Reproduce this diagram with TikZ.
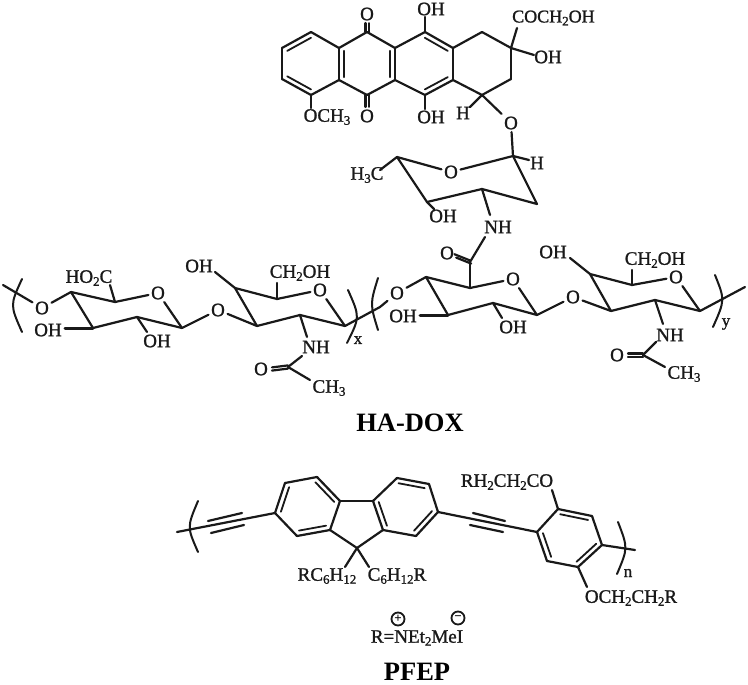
\documentclass[tikz,border=0pt]{standalone}
\usepackage{fontspec}
\setmainfont{Liberation Serif}
\newfontfamily\chemfont{Liberation Serif}[RawFeature={embolden=1.2}]
\usetikzlibrary{calc}
\newcommand{\sbs}[1]{\raisebox{-3pt}{\fontsize{13}{13}\selectfont #1}}
\tikzset{
 bond/.style={line width=2.2pt,line cap=round,line join=round,color=black!90},
 wedge/.style={bond,line width=3pt},
 innerb/.style={bond,line width=1.8pt},
 par/.style={bond,line width=2pt},
 lab/.style={inner sep=0pt,font=\chemfont\fontsize{19}{19}\selectfont,text=black!90},
 atom/.style={lab,inner sep=2.5pt},
 title/.style={inner sep=0pt,font=\fontsize{26.5}{26.5}\selectfont\bfseries},
 idx/.style={inner sep=0pt,font=\chemfont\fontsize{17}{17}\selectfont,text=black!90},
 charge/.style={circle,draw=black!90,line width=1.8pt,inner sep=0pt,minimum size=13pt,font=\fontsize{13}{13}\selectfont\bfseries}
}
\begin{document}
\begin{tikzpicture}[x=1pt,y=-1pt]
\useasboundingbox (0,0) rectangle (748,685);
% ---- named vertices
\foreach \n/\x/\y in {
 A1/311/32,A2/339/48,A3/339/80,A4/311/95,A5/282/79,A6/282/48,Ac/311/64,
 B1/367/32,B3/395/48,B4/395/80,B6/367/95,Bc/367/64,
 C1/425/32,C3/453/48,C4/453/80,C6/425/95,Cc/424/64,
 D1/482/32,D2/511/48,D3/511/79,D4/482/95,
 eOHt/425/17,eOHb/425/109,eOMe/311/108,eCO/517/28,eOHr/534/55,eHd/470/107,
 S1/513/156,S2/537/204,S3/482/189,S4/427/202,S5/397/157,
 eHs/529/160,eMe/380/170,eOHs/434/209,eNHs/490/215,
 eNHa/485/237,Am/470/262,eOa/455/256,
 P1/426/277,P2/470/288,P3/537/315,P4/493/303,P5/448/315,
 eOHp/420/315,eOHq/502/318,
 Q1/611/311,Q2/590/274,Q3/632/285,Q4/700/311,Q5/655/300,
 eOHQ/570/258,eCHQ/632/270,eNHQ/663/324,eNHQb/656/342,Qa/643/355,eMeQ/665/367,eOQ/628/355,
 U1/71/292,U2/115/302,U3/182/328,U4/137/317,U5/93/328,
 eCOOH/110/285,eOHu/65/328,eOHv/147/332,
 V1/257/326,V2/235/288,V3/277/299,V4/345/326,V5/300/315,
 eOHV/215/272,eCHV/277/283,eNHV/307/337,eNHVb/302/356,Va/288/367,eMeV/310/380,eOV/272/369,
 pLa/3/285,pRe/380/307,yEnd/745/287,
 F1/275/513,F2/285/483,F3/317/477,F4/340/501,F5/330/530,F6/297/536,Fc/308/506,
 G1/373/501,G2/397/478,G3/429/484,G4/438/512,G5/416/536,G6/383/530,Gc/405/507,
 F9/357/548,eF1/345/567,eF2/369/567,
 tL/177/532,tEnd/635/550,
 t1a/208/521,t1b/242/513,t2a/211/533,t2b/244/525,
 t3a/473/513,t3b/505/521,t4a/470/525,t4b/503/532,
 H1/537/532,H2/558/509,H3/592/516,H4/602/545,H5/578/567,H6/547/561,Hc/570/538,
 eOCO/552/490,eOC2/587/587,
 p1a/22/279,p1c/10/305,p1b/22/332,
 p2a/348/290,p2c/360/317,p2b/347/343,
 p3a/378/278,p3c/370/304,p3b/378/330,
 p4a/715/275,p4c/725/300,p4b/713/327,
 p5a/198/501,p5c/187/527,p5b/198/552,
 p6a/618/522,p6c/628/548,p6b/617/574}
 {\coordinate (\n) at (\x,\y);}
% ---- atom labels
\node[atom] (oT) at (367,14) {O};
\node[atom] (oB) at (367,116) {O};
\node[atom] (oGly) at (511,123) {O};
\node[atom] (oS) at (451,172) {O};
\node[atom] (oAm) at (447,253) {O};
\node[atom] (oP) at (513,279) {O};
\node[atom] (oL0) at (397,293) {O};
\node[atom] (oL1) at (573,297) {O};
\node[atom] (oQ) at (676,277) {O};
\node[atom] (oQa) at (617,355) {O};
\node[atom] (oU0) at (42,308) {O};
\node[atom] (oU) at (158,293) {O};
\node[atom] (oL2) at (218,310) {O};
\node[atom] (oV) at (320,290) {O};
\node[atom] (oVa) at (261,369) {O};
\node[lab] (tOHt) at (431,9) {OH};
\node[lab] (tOHb) at (431,117) {OH};
\node[lab] (tOMe) at (327,117) {OCH\sbs{3}};
\node[lab,anchor=west,font=\chemfont\fontsize{18}{18}\selectfont] (tCO) at (512,18) {COCH\sbs{2}OH};
\node[lab] (tOHr) at (548,57) {OH};
\node[lab] (tHd) at (463,113) {H};
\node[lab] (tHs) at (537,163) {H};
\node[lab] (tMe) at (367,175) {H\sbs{3}C};
\node[lab] (tOHs) at (443,216) {OH};
\node[lab] (tNHs) at (498,227) {NH};
\node[lab] (tOHp) at (403,316) {OH};
\node[lab] (tOHq) at (513,327) {OH};
\node[lab] (tOHQ) at (553,252) {OH};
\node[lab] (tCHQ) at (655,260) {CH\sbs{2}OH};
\node[lab] (tNHQ) at (670,335) {NH};
\node[lab] (tMeQ) at (684,374) {CH\sbs{3}};
\node[lab] (tCOOH) at (89,278) {HO\sbs{2}C};
\node[lab] (tOHu) at (48,330) {OH};
\node[lab] (tOHv) at (157,341) {OH};
\node[lab] (tOHV) at (199,266) {OH};
\node[lab] (tCHV) at (300,273) {CH\sbs{2}OH};
\node[lab] (tNHV) at (316,347) {NH};
\node[lab] (tMeV) at (329,388) {CH\sbs{3}};
\node[idx] (ix) at (358,340) {x};
\node[idx] (iy) at (726,324) {y};
\node[idx] (in) at (628,573) {n};
\node[title] (ha) at (410,423) {HA-DOX};
\node[lab] (tRC) at (327,576) {RC\sbs{6}H\sbs{12}};
\node[lab] (tCR) at (397,576) {C\sbs{6}H\sbs{12}R};
\node[lab] (tRH) at (507,482) {RH\sbs{2}CH\sbs{2}CO};
\node[lab] (tOC) at (631,598) {OCH\sbs{2}CH\sbs{2}R};
\node[lab] (tR) at (417,638) {R=NEt\sbs{2}MeI};
\node[charge] (cp) at (398,619) {+};
\node[charge] (cm) at (458,618) {−};
\node[title] (pf) at (417,672) {PFEP};
% ---- single bonds
\foreach \a/\b in {
 A1/A2,A2/A3,A3/A4,A4/A5,A5/A6,A6/A1,A2/B1,B1/B3,B3/B4,B4/B6,B6/A3,
 B3/C1,C1/C3,C3/C4,C4/C6,C6/B4,C3/D1,D1/D2,D2/D3,D3/D4,D4/C4,
 C1/eOHt,C6/eOHb,A4/eOMe,D2/eCO,D2/eOHr,D4/eHd,D4/oGly,oGly/S1,
 S1/eHs,S1/oS,oS/S5,S5/eMe,S5/S4,S4/S3,S3/S2,S2/S1,S4/eOHs,S3/eNHs,
 eNHa/Am,Am/P2,P1/P2,P2/oP,oP/P3,P3/P4,P4/P5,P5/P1,oL0/P1,P4/eOHq,
 P3/oL1,oL1/Q1,Q1/Q2,Q2/Q3,Q3/oQ,oQ/Q4,Q4/Q5,Q5/Q1,eOHQ/Q2,eCHQ/Q3,
 Q5/eNHQ,eNHQb/Qa,Qa/eMeQ,Q4/yEnd,
 pLa/oU0,oU0/U1,U1/U2,U2/oU,oU/U3,U3/U4,U4/U5,U5/U1,U2/eCOOH,U4/eOHv,
 U3/oL2,oL2/V1,V1/V2,V2/V3,V3/oV,oV/V4,V4/V5,V5/V1,eOHV/V2,eCHV/V3,
 V5/eNHV,eNHVb/Va,Va/eMeV,V4/pRe,pRe/oL0,
 F1/F2,F2/F3,F3/F4,F4/F5,F5/F6,F6/F1,F4/G1,G1/G2,G2/G3,G3/G4,G4/G5,G5/G6,G6/G1,
 F5/F9,G6/F9,F9/eF1,F9/eF2,tL/F1,G4/H1,
 H1/H2,H2/H3,H3/H4,H4/H5,H5/H6,H6/H1,H2/eOCO,H5/eOC2,H4/tEnd,
 t1a/t1b,t2a/t2b,t3a/t3b,t4a/t4b}
 {\draw[bond] (\a) -- (\b);}
\draw[wedge] (eOHp) -- (P5);
\draw[wedge] (eOHu) -- (U5);
% ---- inner lines of double bonds
\foreach \a/\b/\c in {
 A6/A1/Ac,A5/A4/Ac,A2/A3/Bc,B3/B4/Bc,C1/C3/Cc,C6/C4/Cc,
 F2/F1/Fc,F3/F4/Fc,F6/F5/Fc,G2/G3/Gc,G4/G5/Gc,G1/G6/Gc,
 H2/H3/Hc,H4/H5/Hc,H1/H6/Hc}
 {\draw[innerb] ($(\a)!.18!(\c)$) -- ($(\b)!.18!(\c)$);}
% ---- C=O
\draw[bond] ([xshift=-1.6pt]B1) -- ([xshift=-1.6pt]oT.south);
\draw[bond] ([xshift=1.6pt]B1) -- ([xshift=1.6pt]oT.south);
\draw[bond] ([xshift=-1.6pt]B6) -- ([xshift=-1.6pt]oB.north);
\draw[bond] ([xshift=1.6pt]B6) -- ([xshift=1.6pt]oB.north);
\draw[bond] ([yshift=-1.6pt]Qa) -- ([yshift=-1.6pt]eOQ);
\draw[bond] ([yshift=1.6pt]Qa) -- ([yshift=1.6pt]eOQ);
\draw[bond] ([yshift=-1.6pt]Va) -- ([yshift=-1.6pt]eOV);
\draw[bond] ([yshift=1.6pt]Va) -- ([yshift=1.6pt]eOV);
\draw[bond] ([xshift=1.2pt,yshift=-1.6pt]Am) -- ([xshift=1.2pt,yshift=-1.6pt]eOa);
\draw[bond] ([xshift=-.6pt,yshift=1.8pt]Am) -- ([xshift=-.6pt,yshift=1.8pt]eOa);
% ---- brackets
\foreach \a/\c/\b in {p1a/p1c/p1b,p2a/p2c/p2b,p3a/p3c/p3b,p4a/p4c/p4b,p5a/p5c/p5b,p6a/p6c/p6b}
 {\draw[par] (\a) .. controls (\c) .. (\b);}
\end{tikzpicture}
\end{document}
